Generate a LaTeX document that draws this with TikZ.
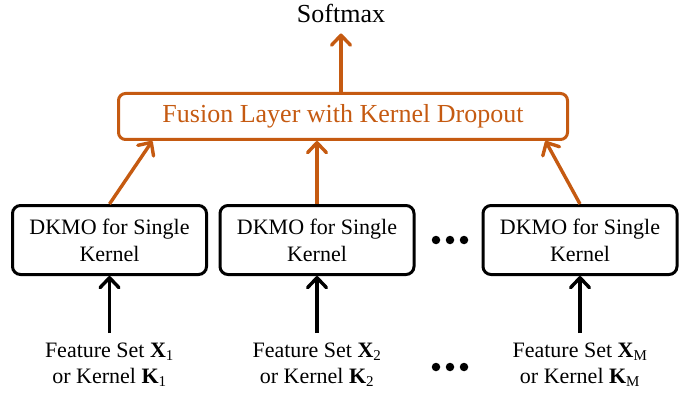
\documentclass[tikz,border=0pt]{standalone}
\usepackage{fontspec}
\setmainfont{Liberation Serif}
\usetikzlibrary{arrows.meta,calc}
\definecolor{fuseorange}{HTML}{C55A11}
\tikzset{
  kbox/.style={draw=black, line width=3pt, rounded corners=8pt, minimum width=194pt,
    minimum height=69pt, align=center, font=\fontsize{22}{27}\selectfont, inner sep=0pt},
  fusebox/.style={draw=fuseorange, line width=3pt, rounded corners=7pt, minimum width=449pt,
    minimum height=46pt, text=fuseorange, font=\fontsize{26}{30}\selectfont, inner sep=0pt},
  inlabel/.style={align=center, font=\fontsize{22}{26}\selectfont, inner sep=0pt},
  headtip/.style={-{Straight Barb[length=10pt,width=19pt,round]}, line width=3.4pt},
  flowblack/.style={headtip, draw=black},
  flowor/.style={headtip, draw=fuseorange},
  dotmark/.style={fill=black, circle, inner sep=0pt, minimum size=8.5pt}
}
\newcommand{\fsub}[2]{\textbf{#1}\textsubscript{\fontsize{15}{15}\selectfont #2}}
\begin{document}
\begin{tikzpicture}[x=1pt,y=-1pt]
  \useasboundingbox (0,0) rectangle (699,401);

  % output and fusion layer
  \node[font=\fontsize{26}{30}\selectfont, inner sep=0pt] (soft) at (341,13) {Softmax};
  \node[fusebox] (fuse) at (343,116.5) {Fusion Layer with Kernel Dropout};

  % per-kernel DKMO blocks
  \node[kbox] (k1) at (109.5,240) {DKMO for Single\\Kernel};
  \node[kbox] (k2) at (317,240) {DKMO for Single\\Kernel};
  \node[kbox] (kM) at (580,240) {DKMO for Single\\Kernel};

  % inputs
  \node[inlabel, anchor=north] (x1) at (109.5,343) {Feature Set \fsub{X}{1}\\or Kernel \fsub{K}{1}};
  \node[inlabel, anchor=north] (x2) at (317,343) {Feature Set \fsub{X}{2}\\or Kernel \fsub{K}{2}};
  \node[inlabel, anchor=north] (xM) at (580,343) {Feature Set \fsub{X}{M}\\or Kernel \fsub{K}{M}};

  % ellipses between the second and the last column
  \foreach \yy/\nm in {240/a,367/b}{
    \node[dotmark] (d\nm1) at (436,\yy) {};
    \node[dotmark] (d\nm2) at (450,\yy) {};
    \node[dotmark] (d\nm3) at (464,\yy) {};
  }

  % connectors
  \draw[flowor] (fuse.north -| soft.south) -- ([yshift=-11pt]soft.south);
  \draw[flowor] (k1.north) -- ($(fuse.south west)!0.078!(fuse.south east)$);
  \draw[flowor] (k2.north) -- (k2.north |- fuse.south);
  \draw[flowor] (kM.north) -- ($(fuse.south west)!0.948!(fuse.south east)$);
  \foreach \s/\t in {x1/k1,x2/k2,xM/kM}
    \draw[flowblack] ([yshift=10pt]\s.north) -- (\t.south);
\end{tikzpicture}
\end{document}
